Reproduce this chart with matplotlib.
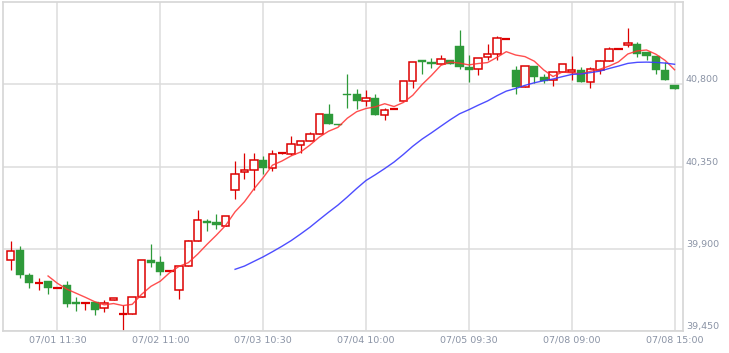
import numpy as np
import pandas as pd
import matplotlib
matplotlib.use("Agg")
import matplotlib.pyplot as plt

# ---- data ----
opens = [39840, 39891, 39759, 39715, 39726, 39686, 39699, 39606, 39602, 39608,
         39575, 39621, 39544, 39544, 39635, 39836, 39825, 39777, 39672, 39807,
         39942, 40051, 40044, 40026, 40223, 40318, 40329, 40387, 40343, 40423,
         40420, 40466, 40491, 40530, 40635, 40584, 40749, 40745, 40710, 40727,
         40634, 40664, 40710, 40820, 40931, 40924, 40913, 40935, 41007, 40894,
         40883, 40949, 40964, 41050, 40876, 40785, 40902, 40839, 40821, 40865,
         40865, 40880, 40814, 40880, 40927, 40993, 41015, 41022, 40975, 40953,
         40876, 40794]
closes = [39887, 39755, 39712, 39715, 39686, 39686, 39597, 39599, 39602, 39566,
          39602, 39632, 39544, 39635, 39840, 39821, 39772, 39777, 39807, 39942,
          40055, 40040, 40028, 40077, 40311, 40329, 40387, 40340, 40420, 40423,
          40471, 40491, 40530, 40639, 40584, 40577, 40741, 40708, 40727, 40630,
          40661, 40664, 40820, 40924, 40924, 40909, 40938, 40913, 40894, 40876,
          40946, 40964, 41055, 41050, 40785, 40902, 40839, 40816, 40869, 40909,
          40878, 40812, 40885, 40927, 40995, 40993, 41028, 40968, 40953, 40880,
          40821, 40774]
highs = [39945, 39913, 39766, 39741, 39726, 39688, 39726, 39635, 39604, 39608,
         39617, 39632, 39590, 39635, 39840, 39927, 39858, 39779, 39807, 39950,
         40114, 40064, 40088, 40077, 40380, 40423, 40423, 40405, 40442, 40425,
         40519, 40491, 40537, 40639, 40694, 40584, 40858, 40776, 40770, 40745,
         40672, 40666, 40820, 40924, 40931, 40946, 40962, 40935, 41099, 40958,
         40946, 41022, 41066, 41052, 40902, 40902, 40902, 40858, 40869, 40909,
         40953, 40894, 40894, 40935, 41004, 40995, 41110, 41029, 40975, 40953,
         40924, 40794]
lows = [39785, 39741, 39686, 39676, 39650, 39684, 39580, 39558, 39566, 39540,
        39553, 39621, 39457, 39544, 39635, 39799, 39759, 39775, 39624, 39807,
        39942, 39996, 40009, 40026, 40174, 40283, 40223, 40311, 40325, 40421,
        40411, 40422, 40491, 40530, 40584, 40577, 40672, 40666, 40679, 40630,
        40602, 40662, 40710, 40781, 40858, 40891, 40913, 40913, 40883, 40812,
        40849, 40935, 40935, 41048, 40745, 40785, 40809, 40809, 40792, 40865,
        40825, 40812, 40781, 40858, 40927, 40991, 41004, 40949, 40935, 40858,
        40821, 40774]
tick_idx = [5, 16, 27, 38, 49, 60, 71]
tick_labels = ["07/01 11:30", "07/02 11:00", "07/03 10:30", "07/04 10:00",
               "07/05 09:30", "07/08 09:00", "07/08 15:00"]
y_ticks = [39450, 39900, 40350, 40800]
ma_short, ma_long = 5, 25

RED = "#dd0000"
GREEN = "#2e9a3a"

fig = plt.figure(figsize=(7.29, 3.53), dpi=100)
ax = fig.add_axes([3 / 729, 22 / 353, 680 / 729, 329 / 353])

o = np.array(opens, float)
c = np.array(closes, float)
h = np.array(highs, float)
l = np.array(lows, float)
x = np.arange(len(o))

up = c > o
down = c < o
flat = c == o
width = 0.8
min_h = 6.0

# wicks
for i in x:
    col = RED if c[i] >= o[i] else GREEN
    ax.vlines(i, l[i], h[i], color=col, lw=0.9, zorder=2)

# up candles: hollow red
bh = np.maximum(np.abs(c - o), min_h)
ax.bar(x[up], bh[up], bottom=o[up], width=width, facecolor="white",
       edgecolor=RED, linewidth=1.1, zorder=3)
# down candles: filled green
ax.bar(x[down], bh[down], bottom=c[down], width=width + 0.08, facecolor=GREEN,
       edgecolor=GREEN, linewidth=0.3, zorder=3)
# flat candles: red bar line
ax.hlines(c[flat], x[flat] - (width + 0.1) / 2, x[flat] + (width + 0.1) / 2,
          color=RED, lw=1.6, zorder=3)

# moving averages
s = pd.Series(c)
ax.plot(x, s.rolling(ma_short).mean(), color="#ff3030", lw=1.0, alpha=0.85, zorder=4)
ax.plot(x, s.rolling(ma_long).mean(), color="#3a3aff", lw=1.0, alpha=0.9, zorder=4)

ax.set_xlim(-0.82, 71.9)
ax.set_ylim(39450, 41250)

ax.set_xticks(tick_idx)
ax.set_xticklabels(tick_labels)
ax.set_yticks(y_ticks)
ax.set_yticklabels([f"{v:,}" for v in y_ticks])
ax.yaxis.tick_right()
ax.tick_params(axis="both", length=0, labelsize=6.8, labelcolor="#8a93a5")
ax.tick_params(axis="x", pad=3.5)
ax.tick_params(axis="y", pad=2)
for lab in ax.get_yticklabels():
    lab.set_va("bottom")

ax.grid(True, color="#dcdcdc", lw=1.1, zorder=0)
ax.set_axisbelow(True)
for sp in ax.spines.values():
    sp.set_color("#d6d6d6")
    sp.set_linewidth(1.2)

fig.savefig("out.png", dpi=100)
